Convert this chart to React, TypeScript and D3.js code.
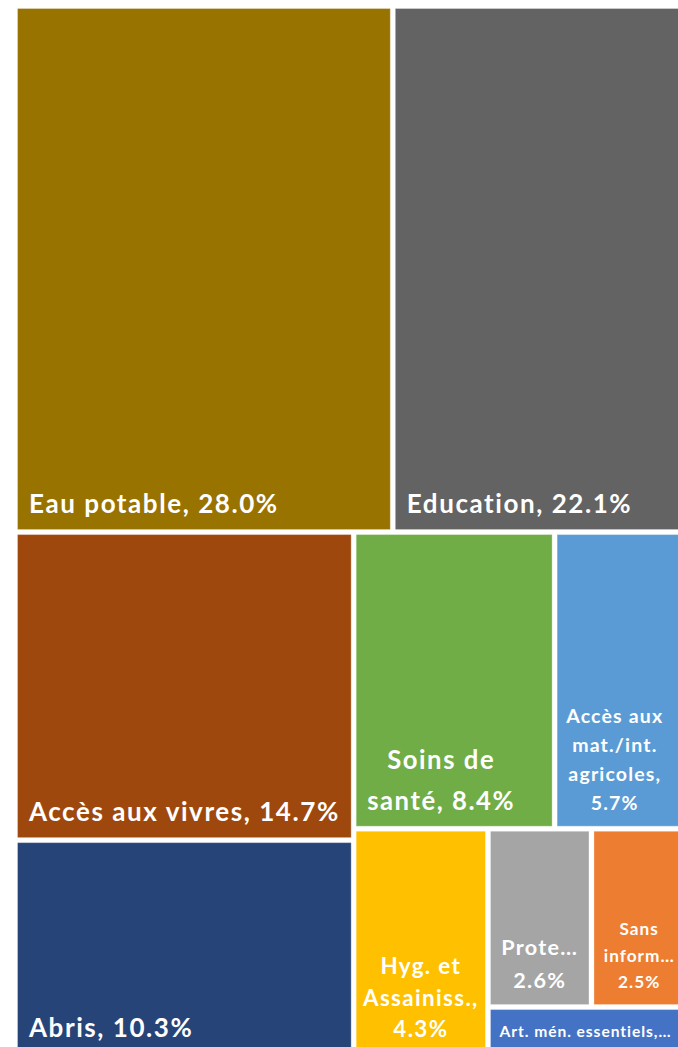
import React, { useEffect, useRef } from 'react';
import * as d3 from 'd3';

const categories = [
  'Eau potable', 'Education', 'Accès aux vivres', 'Abris', 'Soins de santé',
  'Accès aux mat./int. agricoles', 'Hyg. et Assainiss.', 'Protection',
  'Sans information', 'Art. mén. essentiels',
];
const shares = [28.0, 22.1, 14.7, 10.3, 8.4, 5.7, 4.3, 2.6, 2.5, 1.4];
const colors = [
  '#997300', '#636363', '#9E480E', '#264478', '#70AD47',
  '#5B9BD5', '#FFC000', '#A5A5A5', '#ED7D31', '#4472C4',
];
// labels as wrapped/truncated in the original, {v} = the share
const labelLines = [
  ['Eau potable, {v}'],
  ['Education, {v}'],
  ['Accès aux vivres, {v}'],
  ['Abris, {v}'],
  ['Soins de', 'santé, {v}'],
  ['Accès aux', 'mat./int.', 'agricoles,', '{v}'],
  ['Hyg. et', 'Assainiss.,', '{v}'],
  ['Prote…', '{v}'],
  ['Sans', 'inform…', '{v}'],
  ['Art. mén. essentiels,…'],
];

const labelSize = [26, 26, 26, 26, 25.7, 19.5, 22.4, 21.6, 17.2, 15.6];
const labelLead = [30, 30, 30, 30, 41, 29, 31.5, 33, 26.5, 20];
const labelLeft = [true, true, true, true, false, false, false, false, false, false];
const labelNudge = [0, 0, 0, 0, -13, -8, 0, 0, -2, -4];

// squarify variant comparing the mean aspect ratio of a row (office-style layout)
function officeTile(parent: any, x0: number, y0: number, x1: number, y1: number) {
  const nodes = parent.children;
  let value = parent.value;
  let i0 = 0;
  while (i0 < nodes.length) {
    const dx = x1 - x0, dy = y1 - y0;
    const horizontal = dx < dy;
    const side = horizontal ? dx : dy;
    const area = dx * dy;
    const meanAspect = (row: any[]) => {
      const sum = d3.sum(row, d => d.value);
      const thick = (sum / value) * area / side;
      return d3.mean(row, d => {
        const len = (d.value / sum) * side;
        return Math.max(len / thick, thick / len);
      }) as number;
    };
    let i1 = i0 + 1;
    let best = meanAspect(nodes.slice(i0, i1));
    while (i1 < nodes.length) {
      const r = meanAspect(nodes.slice(i0, i1 + 1));
      if (r > best) break;
      best = r;
      i1++;
    }
    const row = nodes.slice(i0, i1);
    const sum = d3.sum(row, (d: any) => d.value);
    const group = { children: row, value: sum } as any;
    if (horizontal) {
      const yb = value ? y0 + dy * sum / value : y1;
      d3.treemapDice(group, x0, y0, x1, yb);
      y0 = yb;
    } else {
      const xb = value ? x0 + dx * sum / value : x1;
      d3.treemapSlice(group, x0, y0, xb, y1);
      x0 = xb;
    }
    value -= sum;
    i0 = i1;
  }
}

export default function App() {
  const svgRef = useRef<SVGSVGElement>(null);
  const width = 678;
  const height = 1047;

  useEffect(() => {
    const svg = d3.select(svgRef.current);
    svg.selectAll('*').remove();

    const data = categories.map((name, i) => ({ name, value: shares[i], i }));
    const root = d3.hierarchy({ children: data } as any)
      .sum((d: any) => d.value || 0)
      .sort((a, b) => (b.value || 0) - (a.value || 0));

    d3.treemap().tile(officeTile as any).size([672, 1046]).paddingInner(4)(root as any);

    const g = svg.append('g').attr('transform', 'translate(17,8)');

    const leaves = g.selectAll('g.leaf')
      .data(root.leaves() as any[])
      .enter().append('g')
      .attr('class', 'leaf');

    leaves.append('rect')
      .attr('x', d => d.x0 + 0.5)
      .attr('y', d => d.y0 + 0.5)
      .attr('width', d => d.x1 - d.x0 - 1)
      .attr('height', d => d.y1 - d.y0 - 1)
      .attr('fill', d => colors[d.data.i])
      .attr('stroke', '#fff')
      .attr('stroke-opacity', 0.3)
      .attr('stroke-width', 1);

    leaves.each(function (d: any) {
      const i = d.data.i;
      const lines = labelLines[i].map(s => s.replace('{v}', `${shares[i].toFixed(1)}%`));
      const left = labelLeft[i];
      const x = (left ? d.x0 + 12 : (d.x0 + d.x1) / 2) + labelNudge[i];
      const lastBase = d.y1 - 17;
      const text = d3.select(this).append('text')
        .attr('fill', '#fff')
        .attr('font-family', 'Lato, "Open Sans", sans-serif')
        .attr('font-weight', 'bold')
        .attr('font-size', labelSize[i])
        .attr('letter-spacing', '0.06em')
        .attr('text-anchor', left ? 'start' : 'middle');
      lines.forEach((line, k) => {
        text.append('tspan')
          .attr('x', x)
          .attr('y', lastBase - (lines.length - 1 - k) * labelLead[i])
          .text(line);
      });
    });
  }, []);

  return (
    <svg
      ref={svgRef}
      width={width}
      height={height}
      style={{ position: 'absolute', left: 0, top: 0, background: '#fff' }}
    />
  );
}
